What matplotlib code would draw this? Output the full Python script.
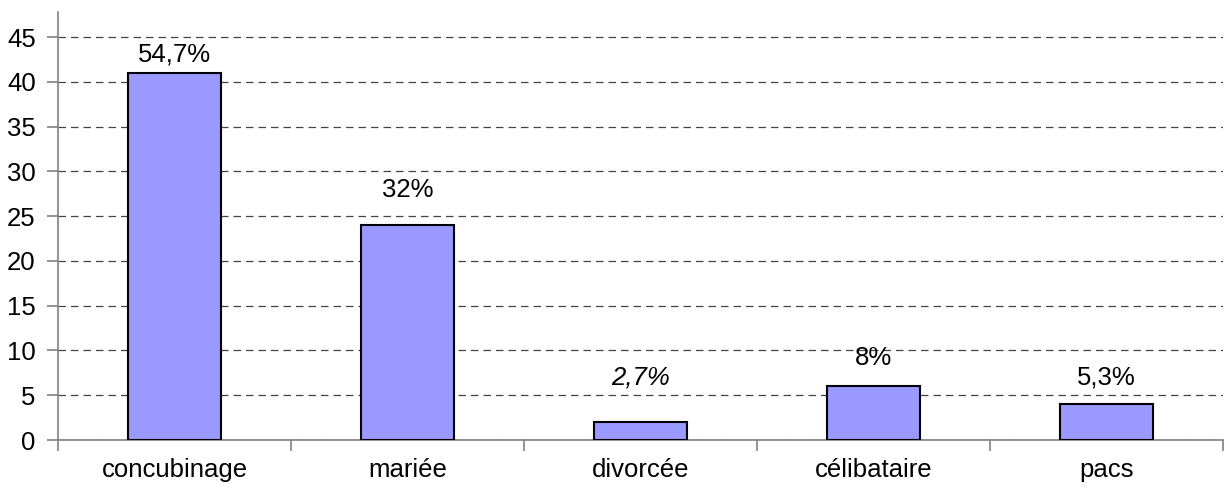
import matplotlib.pyplot as plt
import numpy as np

plt.rcParams['font.family'] = ['Liberation Sans', 'DejaVu Sans']

# data
categories = ['concubinage', 'mariée', 'divorcée', 'célibataire', 'pacs']
counts = [41, 24, 2, 6, 4]
pct_labels = ['54,7%', '32%', '2,7%', '8%', '5,3%']
label_italic = [False, False, True, False, False]
label_offsets = [13, 25, 32, 20, 19]   # points above bar top

fig = plt.figure(figsize=(12.24, 4.9), dpi=100)
ax = fig.add_axes([58/1224, 1 - 440/490, (1223 - 58)/1224, (440 - 12)/490])

x = np.arange(len(categories))
ax.bar(x, counts, width=0.4, color='#9999FF', edgecolor='black', linewidth=1.5, zorder=3)

for xi, v, lab, it, off in zip(x, counts, pct_labels, label_italic, label_offsets):
    ax.annotate(lab, (xi, v), xytext=(0, off), textcoords='offset points',
                ha='center', va='center', fontsize=18.5,
                style='italic' if it else 'normal', zorder=4)

ax.set_xlim(-0.5, len(categories) - 0.5)
ax.set_ylim(0, 47.8)
ax.set_yticks(np.arange(0, 50, 5))
ax.yaxis.grid(True, linestyle=(0, (6, 4)), color='#444444', linewidth=0.9)
ax.set_axisbelow(True)

# category ticks at slot boundaries, labels at centres
ax.set_xticks(np.arange(-0.5, len(categories), 1))
ax.set_xticklabels([])
ax.set_xticks(x, minor=True)
ax.set_xticklabels(categories, minor=True)
ax.tick_params(axis='x', which='minor', length=0, pad=13, labelsize=18.5)
ax.tick_params(axis='x', which='major', length=8, color='#808080', width=1.2)
ax.tick_params(axis='y', length=8, color='#808080', width=1.2, labelsize=18.5, pad=8)

for s in ['top', 'right']:
    ax.spines[s].set_visible(False)
for s in ['left', 'bottom']:
    ax.spines[s].set_color('#808080')
    ax.spines[s].set_linewidth(1.2)

fig.savefig('out.png', dpi=100)
